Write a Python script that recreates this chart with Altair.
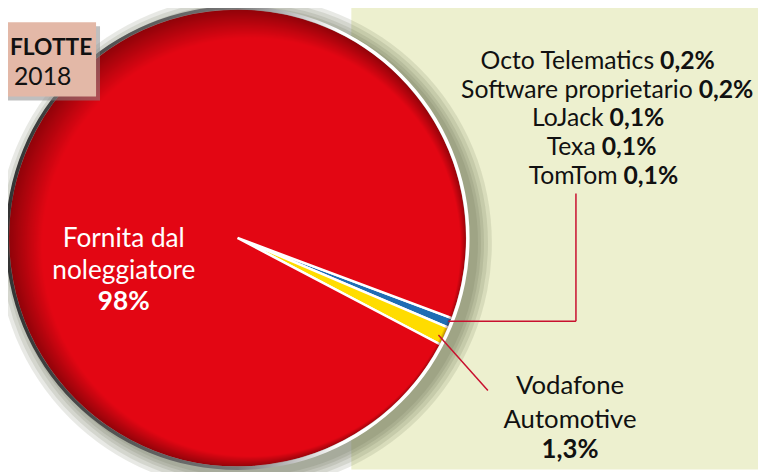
import math
import altair as alt
import pandas as pd

# ---------------- data ----------------
categories = ["Altri", "Vodafone Automotive", "Fornita dal noleggiatore"]
others_names = ["Octo Telematics", "Software proprietario", "LoJack", "Texa", "TomTom"]
others_values = [0.2, 0.2, 0.1, 0.1, 0.1]
vodafone_lines = ["Vodafone", "Automotive"]
vodafone_value = 1.3
fornita_lines = ["Fornita dal", "noleggiatore"]
fornita_value = 98.0
box_lines = ["FLOTTE", "2018"]


def pct(v):
    s = f"{v:.1f}".replace(".", ",")
    if s.endswith(",0"):
        s = s[:-2]
    return s + "%"


others_total = round(sum(others_values), 1)
pie_df = pd.DataFrame({
    "cat": categories,
    "value": [others_total, vodafone_value, fornita_value],
    "order": [0, 1, 2],
})

# ---------------- layout / style ----------------
W, H = 758, 464          # chart drawn from page pixel (8, 8)
OFF = 8
CX, CY, R = 240, 238, 232
START = math.radians(110.5)
slice_colors = ["#1f6db4", "#ffdc00", "#e30613"]
bg_yellow = "#edf0cf"
box_color = "#e3b8a7"
line_color = "#c8102e"
FONT = "Lato"

xs = alt.Scale(domain=[OFF, OFF + W], range=[0, W])
ys = alt.Scale(domain=[OFF, OFF + H], range=[0, H])

one = pd.DataFrame({"k": [0]})


def circle(cx, cy, r, fill, opacity=1.0, inner=0):
    return alt.Chart(one).mark_arc(
        theta=0, theta2=2 * math.pi, outerRadius=r, innerRadius=inner,
        fill=fill, opacity=opacity
    ).encode(x=alt.value(cx - OFF), y=alt.value(cy - OFF))


def text_layer(df, size, color, align="center", weight="normal"):
    return alt.Chart(df).mark_text(font=FONT, fontSize=size, fontWeight=weight, align=align,
                                   baseline="alphabetic", color=color).encode(
        x=alt.X("x:Q", scale=xs, axis=None), y=alt.Y("y:Q", scale=ys, axis=None), text="t:N")


def rect_layer(df, color, opacity=1.0):
    return alt.Chart(df).mark_rect(color=color, opacity=opacity).encode(
        x=alt.X("x:Q", scale=xs, axis=None), x2="x2:Q",
        y=alt.Y("y:Q", scale=ys, axis=None), y2="y2:Q")


# background split
bg = rect_layer(pd.DataFrame({"x": [355], "x2": [766], "y": [0], "y2": [472]}), bg_yellow)

# shadow
shadow_layers = [circle(CX + 7, CY + 5, r, "#5d6148", 0.14) for r in [250, 246, 242, 239, 236]]

# pie
pie = alt.Chart(pie_df).mark_arc(outerRadius=R, stroke="white", strokeWidth=2.5).encode(
    theta=alt.Theta("value:Q", stack=True,
                    scale=alt.Scale(range=[START, START + 2 * math.pi])),
    order=alt.Order("order:Q"),
    color=alt.Color("cat:N", scale=alt.Scale(domain=categories, range=slice_colors), legend=None),
    x=alt.value(CX - OFF), y=alt.value(CY - OFF),
)

# edge shading
dark_edge = alt.Gradient(
    gradient="radial",
    stops=[alt.GradientStop(offset=0, color="rgba(70,0,0,0)"),
           alt.GradientStop(offset=1, color="rgba(70,0,0,0.55)")],
    x1=0.53, y1=0.52, r1=0.455, x2=0.5, y2=0.5, r2=0.5)
shade = circle(CX, CY, R, dark_edge)

ring_grad = alt.Gradient(
    gradient="linear",
    stops=[alt.GradientStop(offset=0, color="#333333"),
           alt.GradientStop(offset=0.5, color="#777777"),
           alt.GradientStop(offset=0.72, color="#ffffff"),
           alt.GradientStop(offset=1, color="#ffffff")],
    x1=0, y1=0, x2=1, y2=0)
ring = circle(CX, CY, R + 2.5, ring_grad, 1.0, inner=R - 1)

# leader lines
lines_df = pd.DataFrame({
    "x": [453, 582, 443], "y": [322, 193, 336],
    "x2": [582, 582, 493], "y2": [322, 322, 392]})
leaders = alt.Chart(lines_df).mark_rule(color=line_color, strokeWidth=1.5).encode(
    x=alt.X("x:Q", scale=xs, axis=None), y=alt.Y("y:Q", scale=ys, axis=None),
    x2="x2:Q", y2="y2:Q")

# right list labels
split_x = [664, 703, 613, 605, 627]
base_y = [67, 96, 125, 154, 183]
names = text_layer(pd.DataFrame({"t": others_names, "x": [s - 3 for s in split_x], "y": base_y}),
                   25, "#111111", align="right")
vals = text_layer(pd.DataFrame({"t": [pct(v) for v in others_values],
                                "x": [s + 3 for s in split_x], "y": base_y}),
                  25, "#111111", align="left", weight="bold")

# vodafone label
voda_n = text_layer(pd.DataFrame({"t": vodafone_lines, "x": [576, 576], "y": [396, 430]}), 26, "#111111")
voda_b = text_layer(pd.DataFrame({"t": [pct(vodafone_value)], "x": [576], "y": [460]}), 26, "#111111",
                    weight="bold")

# fornita label
forn = text_layer(pd.DataFrame({"t": fornita_lines, "x": [125, 125], "y": [247, 279]}), 26.5, "white")
forn_v = text_layer(pd.DataFrame({"t": [pct(fornita_value)], "x": [125], "y": [311]}), 26.5, "white",
                    weight="bold")

# title box (cut at the left edge)
box_shadow = rect_layer(pd.DataFrame({"x": [0], "x2": [101], "y": [24], "y2": [99]}), "#8a8a8a", 0.55)
box = rect_layer(pd.DataFrame({"x": [0], "x2": [97], "y": [20], "y2": [95]}), box_color)
box_t1 = text_layer(pd.DataFrame({"t": [box_lines[0]], "x": [10], "y": [53]}), 23, "#111111",
                    align="left", weight="bold")
box_t2 = text_layer(pd.DataFrame({"t": [box_lines[1]], "x": [72], "y": [83]}), 25, "#111111",
                    align="right")

chart = alt.layer(
    bg, *shadow_layers, pie, shade, ring, leaders,
    names, vals, voda_n, voda_b, forn, forn_v,
    box_shadow, box, box_t1, box_t2,
).properties(
    width=W, height=H, padding=0, background="white",
    autosize=alt.AutoSizeParams(type="none"),
).configure_view(stroke=None)

chart.save("out.html", embed_options={"renderer": "svg", "actions": False})
